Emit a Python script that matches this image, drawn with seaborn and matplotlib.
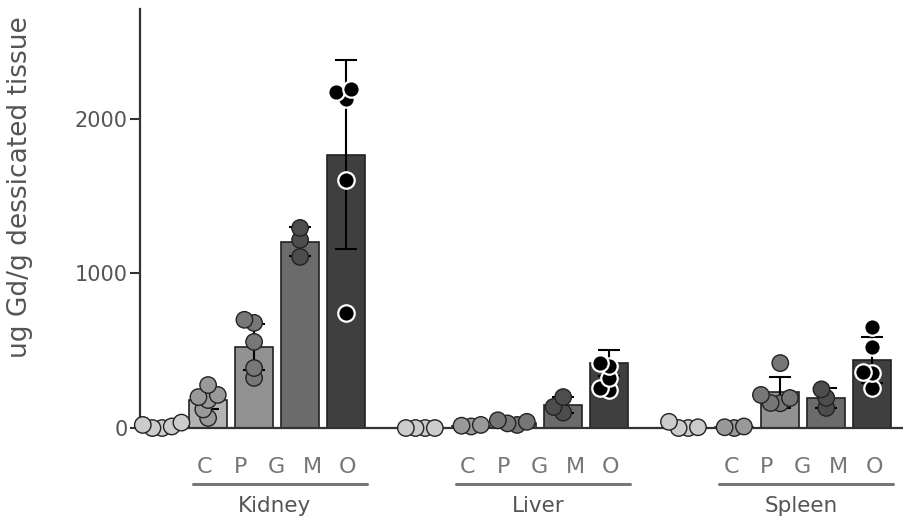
import numpy as np
import pandas as pd
import seaborn as sns
import matplotlib.pyplot as plt
from matplotlib.transforms import blended_transform_factory

tissues = ["Kidney", "Liver", "Spleen"]
conditions = ["C", "P", "G", "M", "O"]

# bar heights (mean) and SD
kidney_mean = [0, 180, 524, 1205, 1767]
kidney_sd = [0, 60, 150, 95, 610]
liver_mean = [0, 15, 30, 150, 420]
liver_sd = [0, 10, 15, 50, 85]
spleen_mean = [0, 8, 230, 195, 440]
spleen_sd = [0, 5, 100, 65, 150]

# individual values per condition
kidney_pts = {"C": [0, 0, 10, 20, 35], "P": [65, 120, 181, 200, 214, 278],
              "G": [324, 388, 557, 680, 700], "M": [1107, 1217, 1294],
              "O": [745, 1605, 2130, 2170, 2190]}
liver_pts = {"C": [0, 0, 0, 0], "P": [10, 15, 20], "G": [20, 30, 40, 50],
             "M": [100, 136, 200], "O": [246, 259, 323, 400, 420]}
spleen_pts = {"C": [0, 0, 5, 40], "P": [0, 5, 10], "G": [160, 162, 194, 214, 420],
              "M": [130, 195, 250], "O": [259, 356, 360, 524, 654]}

bar_colors = {"C": "#cccccc", "P": "#b3b3b3", "G": "#929292", "M": "#6b6b6b", "O": "#3f3f3f"}
point_colors = {"C": "#cccccc", "P": "#999999", "G": "#777777", "M": "#4d4d4d", "O": "#000000"}

group_step = 5.72
tissue_x = {t: i * group_step for i, t in enumerate(tissues)}
cond_x = {c: k for k, c in enumerate(conditions)}


def swarm_offsets(vals, dx=0.35, dy=105.0, sep=0.6):
    # simple deterministic beeswarm so overlapping points get pushed sideways
    vals = np.asarray(vals, float)
    offs = np.zeros(len(vals))
    placed = []
    step = 0.3 * dx
    cands = [0.0]
    for k in range(1, 10):
        cands += [-k * step, k * step]
    for i in np.argsort(vals, kind="stable"):
        for c in cands:
            if all(((c - o) / dx) ** 2 + ((vals[i] - v) / dy) ** 2 >= sep ** 2 for o, v in placed):
                break
        offs[i] = c
        placed.append((c, vals[i]))
    return offs


bars = pd.DataFrame({
    "tissue": np.repeat(tissues, len(conditions)),
    "cond": conditions * len(tissues),
    "mean": kidney_mean + liver_mean + spleen_mean,
    "sd": kidney_sd + liver_sd + spleen_sd,
})
bars["x"] = bars["tissue"].map(tissue_x) + bars["cond"].map(cond_x)

rows = []
for t, pts in zip(tissues, [kidney_pts, liver_pts, spleen_pts]):
    for c in conditions:
        offs = swarm_offsets(pts[c])
        for v, o in zip(pts[c], offs):
            rows.append({"tissue": t, "cond": c, "val": v, "x": tissue_x[t] + cond_x[c] + o})
points = pd.DataFrame(rows)

sns.set_theme(style="ticks")
plt.rcParams["font.family"] = ["DejaVu Sans"]

fig = plt.figure(figsize=(9.04, 5.17), dpi=100)
ax = fig.add_axes([0.1549, 0.1721, 0.8451, 0.8105])

sns.barplot(data=bars, x="x", y="mean", hue="cond", palette=bar_colors, orient="x",
            native_scale=True, width=0.83, dodge=False, errorbar=None,
            edgecolor="#222222", linewidth=1.2, legend=False, ax=ax, zorder=1)

eb = bars[bars["sd"] > 0]
ax.errorbar(eb["x"], eb["mean"], yerr=eb["sd"], fmt="none", ecolor="black",
            elinewidth=1.5, capsize=8, capthick=1.5, zorder=2)

other = points[points["cond"] != "O"]
sns.scatterplot(data=other, x="x", y="val", hue="cond", palette=point_colors, s=140,
                edgecolor="#222222", linewidth=1.0, legend=False, ax=ax, zorder=3, clip_on=False)
sns.scatterplot(data=points[points["cond"] == "O"], x="x", y="val", color="black", s=140,
                edgecolor="white", linewidth=1.6, legend=False, ax=ax, zorder=3, clip_on=False)

ax.set_xlim(-0.48, 16.13)
ax.set_ylim(0, 2710)
ax.set_yticks([0, 1000, 2000])
ax.set_xticks([])
ax.set_xlabel("")
ax.set_ylabel("ug Gd/g dessicated tissue", fontsize=19, color="#555555")
ax.yaxis.set_label_coords(-0.14, 0.574)
ax.tick_params(axis="y", length=7, width=1.5, color="#333333", labelsize=15,
               labelcolor="#555555", pad=2)
for side in ["top", "right"]:
    ax.spines[side].set_visible(False)
for side in ["left", "bottom"]:
    ax.spines[side].set_linewidth(1.6)
    ax.spines[side].set_color("#333333")

# group labels below the axis
trans = blended_transform_factory(ax.transData, ax.transAxes)
for t in tissues:
    x0 = tissue_x[t]
    for k, c in enumerate(conditions):
        ax.text(x0 + 0.93 + k * 0.777, -0.093, c, transform=trans, ha="center", va="center",
                fontsize=16, color="#777777")
    ax.plot([x0 + 0.67, x0 + 4.46], [-0.134, -0.134], transform=trans, color="#777777",
            lw=2.2, clip_on=False)
    ax.text(x0 + 2.45, -0.186, t, transform=trans, ha="center", va="center",
            fontsize=15.5, color="#555555")

fig.savefig("out.png", dpi=100)
